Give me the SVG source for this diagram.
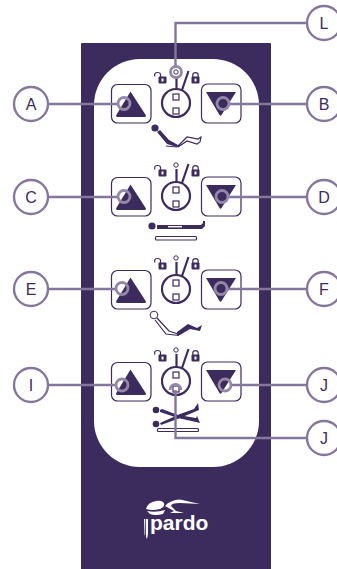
<svg xmlns="http://www.w3.org/2000/svg" width="337" height="569" viewBox="0 0 337 569">
<style>
.d{fill:#3c2b5d}
.o{fill:none;stroke:#3c2b5d;stroke-width:1.2}
.dial{fill:none;stroke:#3c2b5d;stroke-width:2.2}
.c{fill:none;stroke:#85779b;stroke-width:2.4}
.ring{fill:none;stroke:#9488a8;stroke-width:2.8}
.lab{fill:#fff;stroke:#85779b;stroke-width:2.4}
.t{font-family:"Liberation Sans",Arial,sans-serif;font-size:16px;fill:#3c2b5d;text-anchor:middle}
</style>
<defs>
<g id="controls">
<rect class="o" x="111.500" y="84.500" width="39.500" height="38.500" rx="6"/>
<rect class="o" x="201.500" y="84" width="39.500" height="39" rx="6"/>
<path class="d" d="M130.500 91.500L146 115.500Q146 117 144.500 117H117.500Q116 117 116 115.500Z"/>
<path class="d" d="M206 92H236L221.500 115Q220.500 116.500 219.500 115Z"/>
<circle class="dial" cx="176" cy="103" r="14"/>
<rect class="o" x="173" y="94" width="6" height="6" fill="#fff"/>
<rect class="o" x="173" y="108" width="6" height="6" fill="#fff"/>
<path class="dial" d="M176.500 89V76M182 90L188.500 71"/>
<circle cx="176" cy="72" r="2.200" fill="#fff" stroke="#3c2b5d" stroke-width="1"/>
<path class="o" d="M154.700 76.500V74.500Q154.700 72.500 157.500 72.500Q160.500 72.500 160.500 74.500V78" stroke-width="1.400"/>
<rect class="d" x="158.500" y="76.500" width="8" height="7" rx="1"/>
<rect x="161.500" y="78.500" width="2" height="3" fill="#fff"/>
<path class="o" d="M192.800 77V75Q192.800 72.700 195.500 72.700Q198.200 72.700 198.200 75V77" stroke-width="1.400"/>
<rect class="d" x="191.500" y="76.500" width="8" height="7" rx="1"/>
<rect x="194.500" y="78.500" width="2" height="3" fill="#fff"/>
</g>
</defs>
<g id="panel">
<path class="d" d="M81 44Q81 43 82 43H270Q271 43 271 44V569H81Z"/>
<rect x="94" y="59" width="165" height="408" rx="46" fill="#fff"/>
</g>
<g id="row-1">
<use href="#controls"/>
<circle class="d" cx="155" cy="128" r="3.600"/>
<path class="d" d="M157 132L160 130L169 140L178 145L177 147L167 144Z"/>
<path class="o" d="M166 146L177 147L187 137L198 139L201 137L200 142L197 144L187 141L178 147"/>
</g>
<g id="row-2">
<use href="#controls" y="93"/>
<circle class="d" cx="152" cy="226" r="3.600"/>
<path class="d" d="M157 225H201L203 223V221L205 221V226L202 229H157Z"/>
<rect x="168" y="226" width="14" height="1.400" fill="#fff"/>
<rect class="o" x="155.500" y="236.500" width="41" height="3.500" rx="1"/>
</g>
<g id="row-3">
<use href="#controls" y="186"/>
<circle fill="#fff" stroke="#3c2b5d" stroke-width="1" cx="154" cy="315" r="3.800"/>
<path class="o" d="M157 318L169 331L178 334M155 320L166 334L179 335.500"/>
<path class="d" d="M177 332L188 324L197 328L202 325L200 331L190 329L180 335L177 335.500Z"/>
</g>
<g id="row-4">
<use href="#controls" y="278"/>
<circle class="d" cx="156" cy="410" r="3.300"/>
<circle class="d" cx="156" cy="424" r="3.300"/>
<path class="d" d="M160 410L162 409L178 415L196 418L197 416L200 423L196 422L178 418L160 412Z"/>
<path class="d" d="M160 423L180 414L194 409L198 403L199 410L192 413L180 418L161 425Z"/>
<rect class="o" x="157.500" y="428.500" width="41" height="3" rx="1"/>
</g>
<g id="logo" fill="#fff">
<path d="M146 509Q148 502 156 501Q162 500 164 503Q165 507 160 509Q152 511 146 509Z"/>
<path d="M147 511Q156 513 165 510L163 514Q155 516 150 514Z"/>
<path d="M165 506Q170 500 180 499.500L200 504L180 503Q171 503 171 506L176 511L184 513H170L174 511Z"/>
<path d="M144 519H145.200V534L144.600 536ZM146 519H148V534L147 539L146 537Z"/>
<text x="150" y="530" style="font-family:'Liberation Sans',Arial,sans-serif;font-size:21px;font-weight:700">pardo</text>
</g>
<g id="connectors">
<path class="c" d="M48 104H118M306 104H229M307 23H175.500V66M48 197H118M306 197H229M48 289H116M306 289H227M48 385H116M306 385H231M307 438H175.500V390"/>
<circle class="ring" cx="124" cy="103.500" r="6"/>
<circle class="ring" cx="223" cy="103.500" r="6"/>
<circle class="ring" cx="176" cy="72" r="5.500"/>
<circle class="ring" cx="124" cy="196.500" r="6"/>
<circle class="ring" cx="222" cy="196.500" r="6"/>
<circle class="ring" cx="122" cy="288.500" r="6"/>
<circle class="ring" cx="221" cy="288.500" r="6"/>
<circle class="ring" cx="122" cy="385" r="6"/>
<circle class="ring" cx="225" cy="385" r="6"/>
<path class="ring" d="M170 390A5.500 5.500 0 0 1 181 390"/>
</g>
<g id="label-A"><circle class="lab" cx="31" cy="104" r="17"/><text class="t" x="31" y="110">A</text></g>
<g id="label-B"><circle class="lab" cx="324" cy="104" r="17"/><text class="t" x="324" y="110">B</text></g>
<g id="label-C"><circle class="lab" cx="31" cy="197" r="17"/><text class="t" x="31" y="203">C</text></g>
<g id="label-D"><circle class="lab" cx="324" cy="197" r="17"/><text class="t" x="324" y="203">D</text></g>
<g id="label-E"><circle class="lab" cx="31" cy="289" r="17"/><text class="t" x="31" y="295">E</text></g>
<g id="label-F"><circle class="lab" cx="324" cy="289" r="17"/><text class="t" x="324" y="295">F</text></g>
<g id="label-I"><circle class="lab" cx="31" cy="385" r="17"/><text class="t" x="31" y="391">I</text></g>
<g id="label-J1"><circle class="lab" cx="324" cy="385" r="17"/><text class="t" x="324" y="391">J</text></g>
<g id="label-J2"><circle class="lab" cx="324" cy="438" r="17"/><text class="t" x="324" y="444">J</text></g>
<g id="label-L"><circle class="lab" cx="324" cy="23" r="17"/><text class="t" x="324" y="29">L</text></g>
</svg>
